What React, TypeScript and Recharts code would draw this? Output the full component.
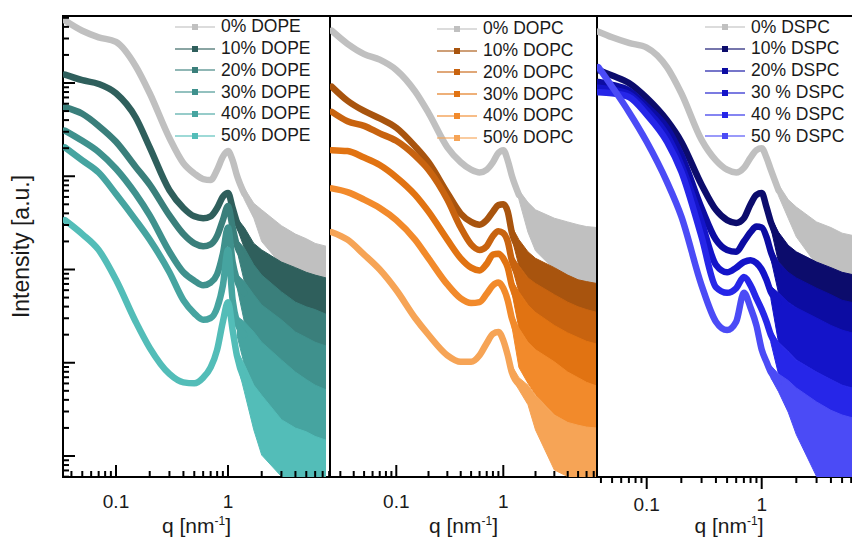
import React from 'react'
import { ComposedChart, Line, Area, XAxis, YAxis, ReferenceArea, Legend } from 'recharts'

const FONT = '"Liberation Sans", Arial, Helvetica, sans-serif'
const CHART_W = 870
const CHART_H = 538
const PLOT_TOP = 16
const PLOT_BOTTOM = 477

// intensity axis (a.u.), same for all three panels
const I_DOMAIN = [10 ** -0.2252, 10 ** 4.7185]

// ---- DOPE panel: q grid of the smooth part, then q grid of the noisy tail ----
const Q_DOPE_LOW = [0.035, 0.05, 0.07, 0.1, 0.15, 0.2, 0.3, 0.4, 0.5, 0.6, 0.7, 0.8, 0.9, 1.0, 1.1, 1.2, 1.4]
const Q_DOPE_HIGH = [1.2, 1.4, 1.7, 2, 3, 4, 5, 6, 7.5]
// log10 intensity
const DOPE_0 = [4.67, 4.56, 4.49, 4.44, 4.18, 3.89, 3.41, 3.14, 3.03, 2.97, 2.96, 3.07, 3.21, 3.27, 3.17, 3.01, 2.81]
const DOPE_0_HI = [3.05, 2.87, 2.71, 2.64, 2.47, 2.38, 2.33, 2.28, 2.25]
const DOPE_0_LO = [2.96, 2.75, 2.55, 2.3, 2.05, 1.99, 1.94, 1.91, 1.88]
const DOPE_10 = [4.09, 4.03, 3.99, 3.89, 3.63, 3.31, 2.85, 2.66, 2.57, 2.55, 2.57, 2.66, 2.78, 2.82, 2.66, 2.51, 2.36]
const DOPE_10_HI = [2.55, 2.45, 2.28, 2.21, 2.08, 2.02, 1.97, 1.94, 1.91]
const DOPE_10_LO = [2.45, 2.23, 2.02, 1.87, 1.62, 1.48, 1.39, 1.33, 1.27]
const DOPE_20 = [3.74, 3.67, 3.54, 3.37, 3.1, 2.91, 2.58, 2.38, 2.28, 2.25, 2.27, 2.36, 2.53, 2.68, 2.45, 2.26, 2.12]
const DOPE_20_HI = [2.32, 2.23, 2.05, 1.94, 1.76, 1.65, 1.6, 1.57, 1.52]
const DOPE_20_LO = [2.21, 1.87, 1.72, 1.57, 1.3, 1.14, 1.05, 1.01, 0.94]
const DOPE_30 = [3.49, 3.38, 3.26, 3.08, 2.81, 2.58, 2.19, 1.97, 1.88, 1.83, 1.86, 1.95, 2.17, 2.45, 2.08, 1.89, 1.75]
const DOPE_30_HI = [1.95, 1.87, 1.73, 1.62, 1.46, 1.33, 1.27, 1.22, 1.18]
const DOPE_30_LO = [1.82, 1.44, 1.3, 1.19, 0.9, 0.71, 0.62, 0.55, 0.47]
const DOPE_40 = [3.31, 3.17, 3.04, 2.81, 2.53, 2.32, 1.97, 1.67, 1.53, 1.46, 1.48, 1.59, 1.83, 2.21, 1.67, 1.44, 1.3]
const DOPE_40_HI = [1.5, 1.44, 1.33, 1.22, 1.03, 0.9, 0.82, 0.76, 0.71]
const DOPE_40_LO = [1.3, 0.98, 0.76, 0.63, 0.38, 0.28, 0.2, 0.12, 0.04]
const DOPE_50 = [2.53, 2.38, 2.21, 1.89, 1.44, 1.16, 0.88, 0.79, 0.78, 0.84, 0.95, 1.14, 1.44, 1.65, 1.35, 1.08, 0.82]
const DOPE_50_HI = [1.14, 0.98, 0.76, 0.65, 0.39, 0.3, 0.26, 0.21, 0.17]
const DOPE_50_LO = [1.01, 0.69, 0.28, 0.01, -0.22, -0.22, -0.22, -0.22, -0.22]

// ---- DOPC panel ----
const Q_DOPC_LOW = [0.025, 0.035, 0.05, 0.07, 0.1, 0.15, 0.2, 0.3, 0.4, 0.5, 0.6, 0.7, 0.8, 0.9, 1.0, 1.1, 1.2, 1.4]
const Q_DOPC_HIGH = [1.2, 1.4, 1.7, 2, 3, 4, 5, 6, 7.5]
const DOPC_0 = [4.56, 4.42, 4.31, 4.25, 4.14, 3.91, 3.68, 3.31, 3.15, 3.07, 3.04, 3.07, 3.15, 3.25, 3.28, 3.17, 3.01, 2.8]
const DOPC_0_HI = [3.06, 2.85, 2.72, 2.64, 2.55, 2.51, 2.48, 2.46, 2.45]
const DOPC_0_LO = [2.96, 2.75, 2.4, 2.2, 2.0, 1.92, 1.87, 1.85, 1.83]
const DOPC_10 = [3.96, 3.81, 3.7, 3.62, 3.52, 3.32, 3.15, 2.82, 2.6, 2.51, 2.48, 2.53, 2.62, 2.69, 2.7, 2.62, 2.4, 2.23]
const DOPC_10_HI = [2.46, 2.32, 2.19, 2.12, 2.02, 1.94, 1.89, 1.87, 1.85]
const DOPC_10_LO = [2.34, 2.04, 1.91, 1.83, 1.71, 1.62, 1.57, 1.52, 1.48]
const DOPC_20 = [3.69, 3.59, 3.54, 3.46, 3.38, 3.22, 3.07, 2.75, 2.45, 2.27, 2.21, 2.25, 2.36, 2.41, 2.39, 2.3, 2.1, 1.94]
const DOPC_20_HI = [2.16, 2.04, 1.91, 1.85, 1.73, 1.65, 1.6, 1.57, 1.54]
const DOPC_20_LO = [2.04, 1.76, 1.62, 1.54, 1.35, 1.24, 1.18, 1.14, 1.09]
const DOPC_30 = [3.28, 3.27, 3.2, 3.12, 2.99, 2.8, 2.62, 2.32, 2.12, 2.02, 1.99, 2.06, 2.16, 2.17, 2.12, 2.02, 1.83, 1.65]
const DOPC_30_HI = [1.89, 1.76, 1.62, 1.54, 1.4, 1.32, 1.27, 1.23, 1.2]
const DOPC_30_LO = [1.76, 1.37, 1.22, 1.14, 0.98, 0.84, 0.75, 0.69, 0.64]
const DOPC_40 = [2.87, 2.83, 2.75, 2.66, 2.53, 2.32, 2.12, 1.84, 1.69, 1.64, 1.65, 1.74, 1.83, 1.86, 1.8, 1.67, 1.48, 1.27]
const DOPC_40_HI = [1.54, 1.37, 1.22, 1.14, 1.01, 0.9, 0.84, 0.79, 0.75]
const DOPC_40_LO = [1.4, 0.95, 0.78, 0.66, 0.44, 0.36, 0.28, 0.21, 0.17]
const DOPC_50 = [2.4, 2.32, 2.16, 2.0, 1.78, 1.48, 1.3, 1.08, 1.01, 1.01, 1.08, 1.21, 1.31, 1.33, 1.24, 1.08, 0.9, 0.77]
const DOPC_50_HI = [0.97, 0.84, 0.76, 0.65, 0.44, 0.36, 0.33, 0.31, 0.3]
const DOPC_50_LO = [0.84, 0.71, 0.55, 0.28, -0.15, -0.22, -0.22, -0.22, -0.22]

// ---- DSPC panel ----
const Q_DSPC_LOW = [0.038, 0.05, 0.07, 0.1, 0.15, 0.2, 0.3, 0.4, 0.5, 0.6, 0.7, 0.8, 0.9, 1.0, 1.1, 1.2, 1.4]
const Q_DSPC_HIGH = [1.2, 1.4, 1.7, 2, 3, 4, 5, 7]
const DSPC_0 = [4.55, 4.49, 4.43, 4.38, 4.17, 3.89, 3.39, 3.17, 3.07, 3.04, 3.09, 3.2, 3.28, 3.3, 3.2, 3.07, 2.85]
const DSPC_0_HI = [3.11, 2.91, 2.75, 2.67, 2.51, 2.45, 2.39, 2.35]
const DSPC_0_LO = [3.01, 2.79, 2.55, 2.35, 2.05, 1.98, 1.9, 1.76]
const DSPC_10 = [4.14, 4.08, 4.0, 3.84, 3.6, 3.37, 2.91, 2.64, 2.53, 2.5, 2.55, 2.7, 2.8, 2.82, 2.67, 2.51, 2.32]
const DSPC_10_HI = [2.56, 2.4, 2.26, 2.19, 2.08, 2.02, 1.97, 1.93]
const DSPC_10_LO = [2.45, 2.08, 1.97, 1.89, 1.67, 1.54, 1.46, 1.37]
const DSPC_20 = [4.01, 3.98, 3.92, 3.75, 3.52, 3.23, 2.66, 2.32, 2.21, 2.19, 2.3, 2.4, 2.46, 2.45, 2.35, 2.19, 1.99]
const DSPC_20_HI = [2.24, 2.08, 1.97, 1.91, 1.8, 1.73, 1.67, 1.63]
const DSPC_20_LO = [2.12, 1.75, 1.65, 1.59, 1.41, 1.27, 1.19, 1.12]
const DSPC_30 = [3.95, 3.93, 3.88, 3.71, 3.44, 3.12, 2.51, 2.05, 1.97, 2.02, 2.08, 2.1, 2.07, 2.0, 1.89, 1.76, 1.64]
const DSPC_30_HI = [1.82, 1.75, 1.65, 1.59, 1.48, 1.4, 1.35, 1.3]
const DSPC_30_LO = [1.69, 1.22, 1.12, 1.03, 0.9, 0.82, 0.76, 0.71]
const DSPC_40 = [3.9, 3.89, 3.85, 3.66, 3.37, 3.05, 2.35, 1.81, 1.75, 1.8, 1.92, 1.83, 1.69, 1.57, 1.44, 1.3, 1.14]
const DSPC_40_HI = [1.35, 1.22, 1.12, 1.03, 0.9, 0.82, 0.76, 0.71]
const DSPC_40_LO = [1.22, 0.88, 0.8, 0.69, 0.49, 0.33, 0.23, 0.12]
const DSPC_50 = [4.17, 3.96, 3.69, 3.37, 2.94, 2.57, 1.83, 1.44, 1.35, 1.44, 1.75, 1.59, 1.4, 1.14, 1.01, 0.9, 0.79]
const DSPC_50_HI = [0.97, 0.88, 0.81, 0.73, 0.58, 0.49, 0.44, 0.39]
const DSPC_50_LO = [0.84, 0.69, 0.47, 0.23, -0.22, -0.22, -0.22, -0.22]

const DOPE_LABELS = ['0% DOPE', '10% DOPE', '20% DOPE', '30% DOPE', '40% DOPE', '50% DOPE']
const DOPC_LABELS = ['0% DOPC', '10% DOPC', '20% DOPC', '30% DOPC', '40% DOPC', '50% DOPC']
const DSPC_LABELS = ['0% DSPC', '10% DSPC', '20% DSPC', '30 % DSPC', '40 % DSPC', '50 % DSPC']

const GRAY = '#c0c0c0'
const DOPE_COLORS = [GRAY, '#2f5f5c', '#3a7f7b', '#3f918d', '#46a4a0', '#53bdb8']
const DOPC_COLORS = [GRAY, '#a8540e', '#c8630f', '#e17312', '#f28a2b', '#f6a456']
const DSPC_COLORS = [GRAY, '#0c0c6c', '#0c0ca2', '#1414c9', '#2626e8', '#4b4bf6']

type Curve = { low: number[]; hi: number[]; lo: number[] }

const curve = (low: number[], hi: number[], lo: number[]): Curve => ({ low, hi, lo })

function buildRows(qLow: number[], qHigh: number[], curves: Curve[]) {
  const qs = [...new Set([...qLow, ...qHigh])].sort((a, b) => a - b)
  return qs.map(q => {
    const row: Record<string, any> = { q }
    const i = qLow.indexOf(q)
    const j = qHigh.indexOf(q)
    curves.forEach((c, k) => {
      row[`m${k}`] = i >= 0 ? 10 ** c.low[i] : null
      row[`b${k}`] = j >= 0 ? [10 ** c.lo[j], 10 ** c.hi[j]] : null
    })
    return row
  })
}

function logTicks([lo, hi]: number[]) {
  const out: number[] = []
  for (let e = Math.floor(Math.log10(lo)); e <= Math.ceil(Math.log10(hi)); e++) {
    for (let k = 1; k <= 9; k++) {
      const v = k * 10 ** e
      if (v >= lo * 0.999 && v <= hi * 1.001) out.push(v)
    }
  }
  return out
}

const isDecade = (v: number) => Math.abs(Math.log10(v) - Math.round(Math.log10(v))) < 1e-6

const LABELED_Q = [0.1, 1]

function XTick(props: any) {
  const { x, payload, outward, labelY } = props
  const major = isDecade(payload.value)
  const len = major ? 12 : 6
  const dir = outward ? 1 : -1
  return (
    <g>
      <line x1={x} x2={x} y1={PLOT_BOTTOM} y2={PLOT_BOTTOM + dir * len} stroke="#000" strokeWidth={2} />
      {LABELED_Q.some(v => Math.abs(v - payload.value) < 1e-9) && (
        <text x={x} y={labelY} textAnchor="middle" fontSize={19} fill="#1a1a1a" fontFamily={FONT}>
          {String(payload.value)}
        </text>
      )}
    </g>
  )
}

function YTick(props: any) {
  const { y, payload, axisX } = props
  const len = isDecade(payload.value) ? 12 : 6
  return <line x1={axisX} x2={axisX + len} y1={y} y2={y} stroke="#000" strokeWidth={2} />
}

function QTitle(props: any) {
  const { viewBox, baseline } = props
  const cx = viewBox.x + viewBox.width / 2
  return (
    <text x={cx} y={baseline} textAnchor="middle" fontSize={21} fill="#1a1a1a" fontFamily={FONT}>
      q [nm<tspan fontSize={12} dy={-8}>-1</tspan><tspan dy={8}>]</tspan>
    </text>
  )
}

function ITitle(props: any) {
  const { viewBox } = props
  const cy = viewBox.y + viewBox.height / 2
  const x = 29
  return (
    <text x={x} y={cy} transform={`rotate(-90 ${x} ${cy})`} textAnchor="middle" fontSize={23} fill="#1a1a1a" fontFamily={FONT}>
      Intensity [a.u.]
    </text>
  )
}

function LegendRows(props: any) {
  const { payload = [] } = props
  // only the curve lines get an entry, not the tail bands
  const rows = payload.filter((p: any) => String(p.dataKey).startsWith('m'))
  return (
    <div style={{ fontFamily: FONT }}>
      {rows.map((p: any) => (
        <div key={p.value} style={{ display: 'flex', alignItems: 'center', height: 21.8 }}>
          <svg width={40} height={8} style={{ overflow: 'visible' }}>
            <line x1={0} x2={40} y1={4} y2={4} stroke={p.color} strokeWidth={1.5} strokeOpacity={0.75} />
            <rect x={17} y={1} width={6} height={6} fill={p.color} />
          </svg>
          <span style={{ marginLeft: 6, fontSize: 17.5, color: '#1a1a1a', lineHeight: 1, whiteSpace: 'nowrap' }}>{p.value}</span>
        </div>
      ))}
    </div>
  )
}

const PANELS = [
  {
    id: 'dope', left: 63, right: 330,
    qDomain: [10 ** -1.4732, 10 ** 0.9107],
    qLow: Q_DOPE_LOW, qHigh: Q_DOPE_HIGH,
    curves: [
      curve(DOPE_0, DOPE_0_HI, DOPE_0_LO), curve(DOPE_10, DOPE_10_HI, DOPE_10_LO),
      curve(DOPE_20, DOPE_20_HI, DOPE_20_LO), curve(DOPE_30, DOPE_30_HI, DOPE_30_LO),
      curve(DOPE_40, DOPE_40_HI, DOPE_40_LO), curve(DOPE_50, DOPE_50_HI, DOPE_50_LO),
    ],
    labels: DOPE_LABELS, colors: DOPE_COLORS,
    legend: { left: 175, top: 16 }, yTicks: true, outward: false, labelY: 508, titleY: 533,
  },
  {
    id: 'dopc', left: 330, right: 597,
    qDomain: [10 ** -1.6196, 10 ** 0.8757],
    qLow: Q_DOPC_LOW, qHigh: Q_DOPC_HIGH,
    curves: [
      curve(DOPC_0, DOPC_0_HI, DOPC_0_LO), curve(DOPC_10, DOPC_10_HI, DOPC_10_LO),
      curve(DOPC_20, DOPC_20_HI, DOPC_20_LO), curve(DOPC_30, DOPC_30_HI, DOPC_30_LO),
      curve(DOPC_40, DOPC_40_HI, DOPC_40_LO), curve(DOPC_50, DOPC_50_HI, DOPC_50_LO),
    ],
    labels: DOPC_LABELS, colors: DOPC_COLORS,
    legend: { left: 437, top: 18 }, yTicks: false, outward: false, labelY: 508, titleY: 533,
  },
  {
    id: 'dspc', left: 597, right: 861,
    qDomain: [10 ** -1.4322, 10 ** 0.8635],
    qLow: Q_DSPC_LOW, qHigh: Q_DSPC_HIGH,
    curves: [
      curve(DSPC_0, DSPC_0_HI, DSPC_0_LO), curve(DSPC_10, DSPC_10_HI, DSPC_10_LO),
      curve(DSPC_20, DSPC_20_HI, DSPC_20_LO), curve(DSPC_30, DSPC_30_HI, DSPC_30_LO),
      curve(DSPC_40, DSPC_40_HI, DSPC_40_LO), curve(DSPC_50, DSPC_50_HI, DSPC_50_LO),
    ],
    labels: DSPC_LABELS, colors: DSPC_COLORS,
    legend: { left: 705, top: 16.5 }, yTicks: false, outward: true, labelY: 511, titleY: 533,
  },
]

function Panel({ p }: { p: (typeof PANELS)[number] }) {
  const rows = buildRows(p.qLow, p.qHigh, p.curves)
  return (
    <div style={{ position: 'absolute', left: 0, top: 0 }}>
      <ComposedChart
        width={CHART_W}
        height={CHART_H}
        data={rows}
        margin={{ top: PLOT_TOP, bottom: CHART_H - PLOT_BOTTOM - 1, left: p.left - 1, right: CHART_W - p.right }}
        style={{ fontFamily: FONT }}
      >
        <XAxis
          dataKey="q" type="number" scale="log" domain={p.qDomain} allowDataOverflow
          ticks={logTicks(p.qDomain)} interval={0} height={1}
          tickLine={false} axisLine={false}
          tick={<XTick outward={p.outward} labelY={p.labelY} />}
          label={<QTitle baseline={p.titleY} />}
        />
        <YAxis
          type="number" scale="log" domain={I_DOMAIN} allowDataOverflow width={1}
          ticks={p.yTicks ? logTicks(I_DOMAIN) : []} interval={0}
          tickLine={false} axisLine={false}
          tick={p.yTicks ? <YTick axisX={p.left} /> : false}
          label={p.yTicks ? <ITitle /> : undefined}
        />
        <ReferenceArea
          x1={p.qDomain[0]} x2={p.qDomain[1]} y1={I_DOMAIN[0]} y2={I_DOMAIN[1]}
          fill="none" stroke="#000" strokeWidth={2} fillOpacity={0}
        />
        {p.curves.map((_, k) => [
          <Line
            key={`m${k}`} dataKey={`m${k}`} name={p.labels[k]} type="monotone"
            stroke={p.colors[k]} strokeWidth={6.5} strokeLinecap="round" dot={false} activeDot={false}
            isAnimationActive={false}
          />,
          <Area
            key={`b${k}`} dataKey={`b${k}`} type="linear" legendType="none"
            stroke={p.colors[k]} strokeWidth={1} fill={p.colors[k]} fillOpacity={1}
            dot={false} activeDot={false} isAnimationActive={false}
          />,
        ])}
        <Legend
          layout="horizontal" verticalAlign="middle" align="center"
          wrapperStyle={{ left: p.legend.left, top: p.legend.top, width: 200, right: 'auto', bottom: 'auto' }}
          content={<LegendRows />}
        />
      </ComposedChart>
    </div>
  )
}

export default function App() {
  return (
    <div style={{ position: 'fixed', left: 0, top: 0, width: 852, height: 538, overflow: 'hidden', background: '#fff' }}>
      {PANELS.map(p => <Panel key={p.id} p={p} />)}
    </div>
  )
}
